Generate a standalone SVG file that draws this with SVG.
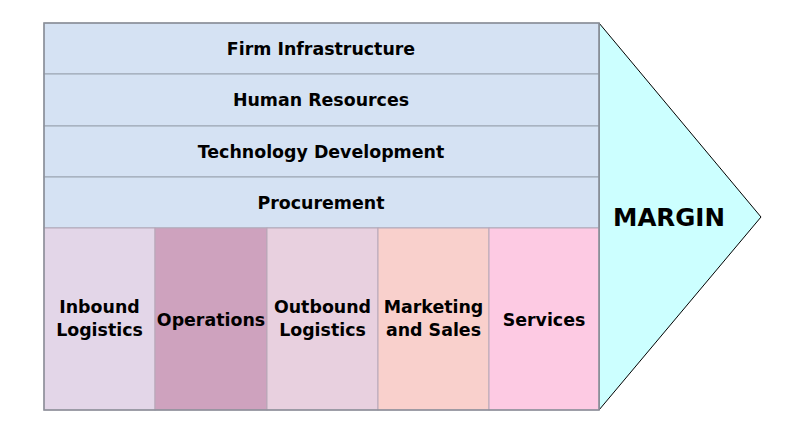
<svg xmlns="http://www.w3.org/2000/svg" width="800" height="434" viewBox="0 0 800 434">
<style>
.t{font-family:"DejaVu Sans",Verdana,sans-serif;font-weight:bold;font-size:17.4px;fill:#000;text-anchor:middle;dominant-baseline:central}
.row{fill:#d5e2f3;stroke:#9aa3b0;stroke-width:1}
.col{stroke:#b8a8b8;stroke-width:1}
</style>
<rect width="800" height="434" fill="#fff"/>
<g id="margin">
<polygon points="599,23 761,217 599,410" fill="#ccffff" stroke="#000" stroke-width="1"/>
<text class="t" x="669" y="217" style="font-size:24.5px">MARGIN</text>
</g>
<g id="firm"><rect class="row" x="44" y="23" width="555" height="51"/><text class="t" x="321" y="48.5">Firm Infrastructure</text></g>
<g id="hr"><rect class="row" x="44" y="74" width="555" height="52"/><text class="t" x="321" y="100">Human Resources</text></g>
<g id="tech"><rect class="row" x="44" y="126" width="555" height="51"/><text class="t" x="321" y="151.5">Technology Development</text></g>
<g id="proc"><rect class="row" x="44" y="177" width="555" height="51"/><text class="t" x="321" y="202.5">Procurement</text></g>
<g id="inbound"><rect class="col" x="44" y="228" width="111" height="182" fill="#e3d6e8"/><text class="t" x="99.5" y="307">Inbound</text><text class="t" x="99.5" y="330">Logistics</text></g>
<g id="operations"><rect class="col" x="155" y="228" width="112" height="182" fill="#cea2be"/><text class="t" x="211" y="320">Operations</text></g>
<g id="outbound"><rect class="col" x="267" y="228" width="111" height="182" fill="#e8d0df"/><text class="t" x="322.5" y="307">Outbound</text><text class="t" x="322.5" y="330">Logistics</text></g>
<g id="marketing"><rect class="col" x="378" y="228" width="111" height="182" fill="#f9d0cc"/><text class="t" x="433.5" y="307">Marketing</text><text class="t" x="433.5" y="330">and Sales</text></g>
<g id="services"><rect class="col" x="489" y="228" width="110" height="182" fill="#fdcae3"/><text class="t" x="544" y="320">Services</text></g>
<g id="frame"><rect x="44" y="23" width="555" height="387" fill="none" stroke="#8a8f98" stroke-width="1.5"/></g>
</svg>
